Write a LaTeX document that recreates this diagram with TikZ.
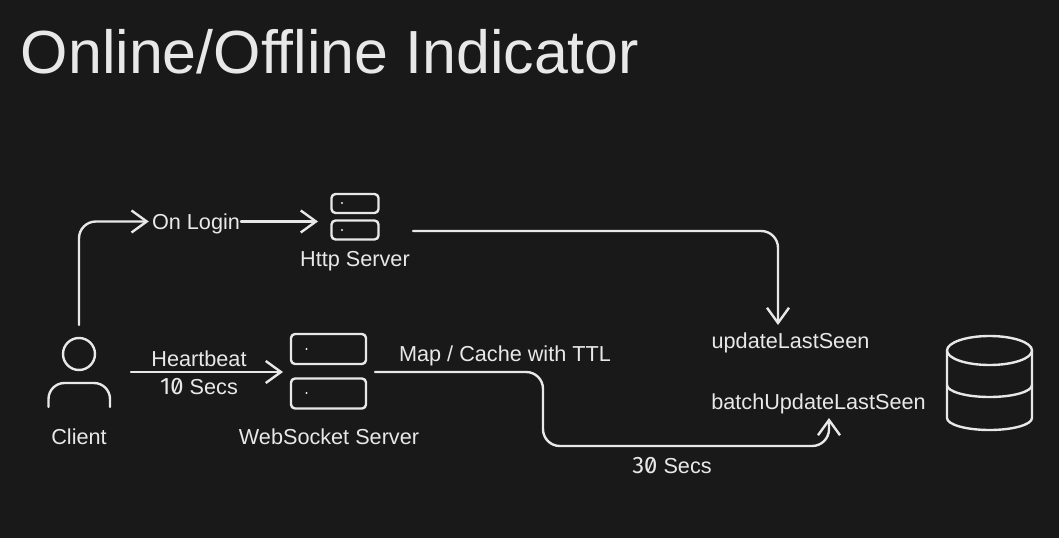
\documentclass[tikz,border=0pt]{standalone}
\usepackage{fontspec}
\setmainfont{Liberation Sans}
\newfontfamily\digitfont[RawFeature=+zero,Scale=1.1]{Fira Sans}
\usetikzlibrary{arrows.meta}
\definecolor{canvas}{HTML}{191919}
\definecolor{chalk}{HTML}{E8E8E8}
\def\px{0.025cm}
\begin{document}
\begin{tikzpicture}[x=0.025cm,y=-0.025cm,
	line/.style={chalk, line width=1.7pt, line cap=round, line join=round},
	flow/.style={line, rounded corners=0.42cm, -{Straight Barb[length=0.38cm,width=0.55cm,line width=1.7pt]}},
	label/.style={text=chalk, inner sep=0pt, font=\fontsize{15.4}{18}\selectfont},
	rack/.style={line, draw, rounded corners=0.1cm, inner sep=0pt},
	pin/.style={circle, fill=chalk, inner sep=0pt, minimum size=1.6pt}]
	\fill[canvas] (0,0) rectangle (1059,538);
	\useasboundingbox (0,0) rectangle (1059,538);

	%Nodes
	\node[label, font=\fontsize{43.3}{48}\selectfont] (title) at (330,52) {Online/Offline Indicator};
	\node[line, draw, circle, inner sep=0pt, minimum size=32*\px] (head) at (79,354) {};
	\node[label] (client) at (79,437) {Client};
	\node[label] (login) at (196,223.5) {On Login};
	\node[rack, minimum width=47*\px, minimum height=19*\px] (httptop) at (355,203.5) {};
	\node[rack, minimum width=47*\px, minimum height=19*\px] (httpbot) at (355,230) {};
	\node[label] (http) at (355,261) {Http Server};
	\node[pin] (httpa) at (342,203) {};
	\node[pin] (httpb) at (342,230) {};
	\node[label] (beat) at (199,358.5) {Heartbeat};
	\node[label] (secs) at (199,386.5) {{\digitfont 10} Secs};
	\node[rack, minimum width=75*\px, minimum height=30*\px] (wstop) at (328.5,349) {};
	\node[rack, minimum width=75*\px, minimum height=30*\px] (wsbot) at (328.5,393.5) {};
	\node[label] (ws) at (329,436.5) {WebSocket Server};
	\node[pin] (wsa) at (306.5,349) {};
	\node[pin] (wsb) at (306.5,393) {};
	\node[label] (cache) at (505,355.5) {Map / Cache with TTL};
	\node[label] (update) at (790.5,343) {updateLastSeen};
	\node[label] (batch) at (818.5,404) {batchUpdateLastSeen};
	\node[label] (late) at (672,465.5) {{\digitfont 30} Secs};
	\coordinate (beatfrom) at (131,372);
	\coordinate (beatto) at (283,372);
	\coordinate (loginfrom) at (241,221.5);
	\coordinate (loginto) at (318,221.5);
	\coordinate (httpfrom) at (413,231);
	\coordinate (updateto) at (778,325);
	\coordinate (cachefrom) at (375,372);
	\coordinate (cachebend) at (543,409);
	\coordinate (batchto) at (829,418);
	\coordinate (base) at (829,446);

	%Lines
	\draw[flow, shorten >=3*\px] ([yshift=12*\px]head.north) |- (login.west |- loginfrom);
	\draw[flow, rounded corners=0pt] (loginfrom) -- (loginto);
	\draw[flow] (httpfrom) -| (updateto);
	\draw[flow, rounded corners=0pt] (beatfrom) -- (beatto);
	\draw[flow] (cachefrom) -| (cachebend) |- (base) -- (batchto);

	%Client
	\draw[line] (48.5,407) -- (48.5,399) arc[start angle=180, end angle=90, radius=16*\px] -- (94,383) arc[start angle=90, end angle=0, radius=16*\px] -- (110,407);

	%Database
	\draw[line] (989.5,350.5) ellipse[x radius=42.5, y radius=14.5];
	\draw[line] (947,350.5) -- (947,418) arc[start angle=180, end angle=0, x radius=42.5, y radius=12] -- (1032,350.5);
	\draw[line] (947,385) arc[start angle=180, end angle=0, x radius=42.5, y radius=12];
\end{tikzpicture}
\end{document}
